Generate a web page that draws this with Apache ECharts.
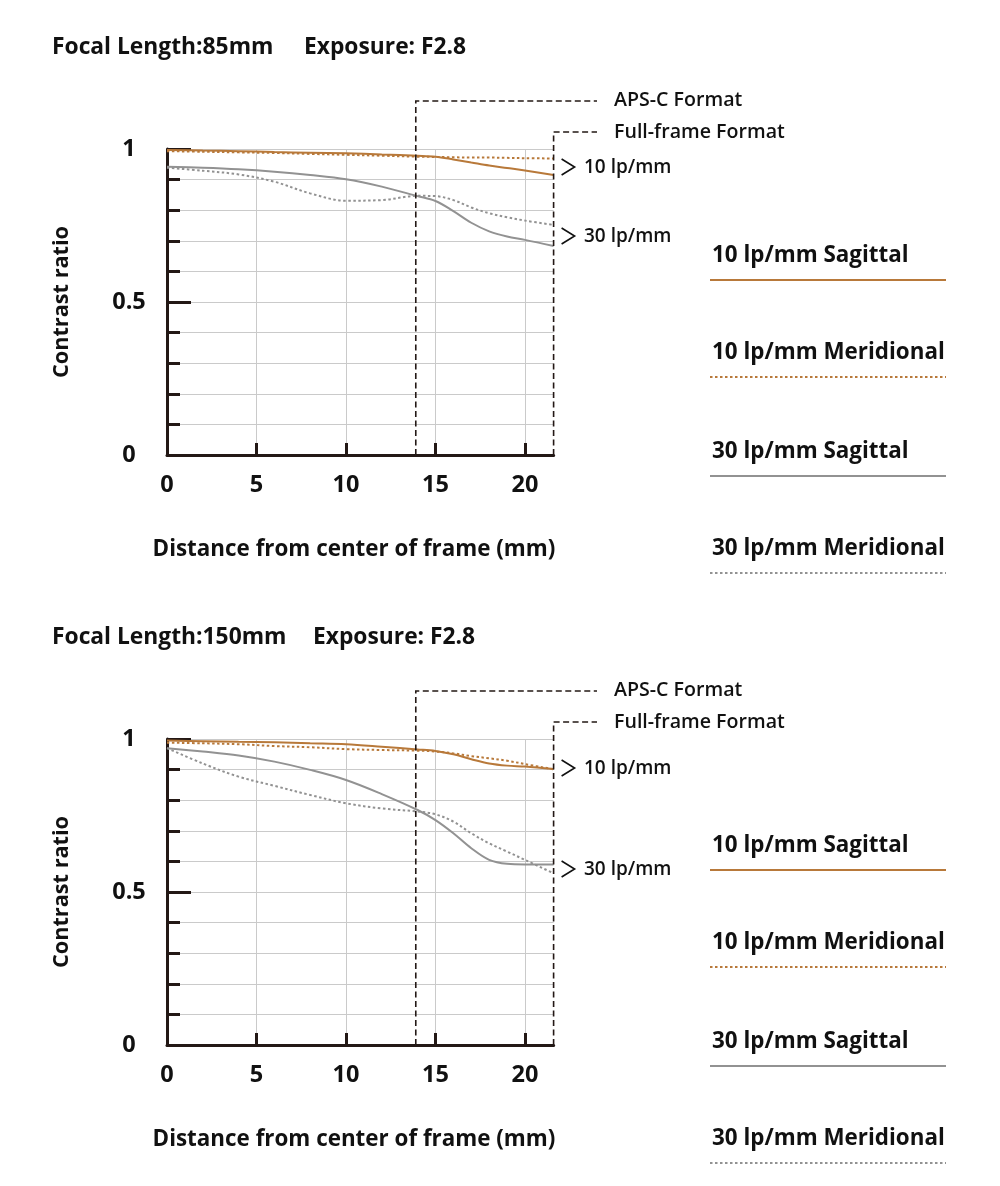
<!DOCTYPE html>
<html><head><meta charset="utf-8">
<script src="https://cdn.jsdelivr.net/npm/echarts@6/dist/echarts.min.js"></script>
<style>html,body{margin:0;background:#fff}#c{width:1000px;height:1186px}</style>
</head><body><div id="c"></div>
<script>
// ---------- DATA ----------
const xs = [0, 2, 4, 6, 8, 10, 12, 14, 15, 16, 17, 18, 19, 20, 21.6];
// 85mm F2.8
const f85_10S = [0.997,0.995,0.993,0.990,0.988,0.986,0.982,0.978,0.975,0.966,0.956,0.946,0.938,0.930,0.915];
const f85_10M = [0.993,0.991,0.989,0.987,0.984,0.981,0.978,0.975,0.974,0.973,0.972,0.972,0.971,0.970,0.969];
const f85_30S = [0.942,0.939,0.934,0.926,0.915,0.901,0.877,0.846,0.830,0.797,0.759,0.731,0.714,0.703,0.683];
const f85_30M = [0.939,0.929,0.917,0.893,0.855,0.831,0.833,0.847,0.846,0.833,0.809,0.790,0.777,0.766,0.752];
// 150mm F2.8
const f150_10S = [0.995,0.993,0.991,0.989,0.986,0.983,0.975,0.966,0.961,0.950,0.934,0.920,0.913,0.910,0.902];
const f150_10M = [0.988,0.986,0.983,0.977,0.973,0.967,0.964,0.962,0.959,0.953,0.944,0.937,0.929,0.918,0.901];
const f150_30S = [0.970,0.959,0.946,0.926,0.899,0.866,0.820,0.768,0.735,0.692,0.643,0.605,0.592,0.590,0.590];
const f150_30M = [0.970,0.920,0.877,0.847,0.817,0.790,0.773,0.763,0.754,0.730,0.692,0.659,0.632,0.605,0.561];

const titles = [["Focal Length:85mm", "Exposure: F2.8"], ["Focal Length:150mm", "Exposure: F2.8"]];
const xTickLabels = [0, 5, 10, 15, 20];
const yTickLabels = ["0", "0.5", "1"];
const xMax = 21.6;           // full-frame edge (mm)
const apscEdge = 13.9;       // APS-C edge (mm)
const legendNames = ["10 lp/mm Sagittal", "10 lp/mm Meridional", "30 lp/mm Sagittal", "30 lp/mm Meridional"];
const freqLabels = ["10 lp/mm", "30 lp/mm"];
const xAxisName = "Distance from center of frame (mm)";
const yAxisName = "Contrast ratio";

// ---------- STYLE ----------
const ORANGE = '#b8793a', GRAY = '#929292', INK = '#231815', GRID = '#cacaca';
const FONT = '"Open Sans"';
const chartSets = [[f85_10S, f85_10M, f85_30S, f85_30M], [f150_10S, f150_10M, f150_30S, f150_30M]];
const styles = [
  {color: ORANGE, type: 'solid'}, {color: ORANGE, type: [2.5, 2.5]},
  {color: GRAY, type: 'solid'}, {color: GRAY, type: [2.5, 2.5]}
];
const OFF = 590;
const gridTop = [149, 149 + OFF];

const el = document.getElementById('c');
const chart = echarts.init(el, null, {renderer: 'canvas'});

const grids = [], xAxes = [], yAxes = [], series = [];
for (let g = 0; g < 2; g++) {
  grids.push({left: 167, width: 386.6, top: gridTop[g], height: 306, containLabel: false});
  xAxes.push({
    type: 'value', gridIndex: g, min: 0, max: xMax, interval: 5,
    axisLine: {show: true, onZero: false, lineStyle: {color: INK, width: 3}},
    axisTick: {show: true, inside: true, length: 12, lineStyle: {color: INK, width: 3}, customValues: [5, 10, 15, 20]},
    axisLabel: {customValues: xTickLabels, fontFamily: FONT, fontWeight: 700, fontSize: 23.5, color: '#111', margin: 18},
    splitLine: {show: true, lineStyle: {color: GRID, width: 1}}
  });
  yAxes.push({
    type: 'value', gridIndex: g, min: 0, max: 1, interval: 0.1, position: 'left',
    axisLine: {show: true, lineStyle: {color: INK, width: 3}},
    axisTick: {show: true, inside: true, length: 13, lineStyle: {color: INK, width: 3}},
    axisLabel: {
      align: 'center', margin: 38, fontFamily: FONT, fontWeight: 700, fontSize: 23.5, color: '#111',
      formatter: v => Math.abs(v) < 1e-6 ? yTickLabels[0] : Math.abs(v - 0.5) < 1e-6 ? yTickLabels[1] : Math.abs(v - 1) < 1e-6 ? yTickLabels[2] : ''
    },
    splitLine: {show: true, lineStyle: {color: GRID, width: 1}}
  });
  yAxes.push({
    type: 'value', gridIndex: g, min: 0, max: 1, interval: 0.5, position: 'left',
    axisLine: {show: false},
    axisTick: {show: true, inside: true, length: 24, lineStyle: {color: INK, width: 3}},
    axisLabel: {show: false}, splitLine: {show: false}
  });
  chartSets[g].forEach((vals, i) => {
    series.push({
      type: 'line', xAxisIndex: g, yAxisIndex: g * 2, name: legendNames[i],
      data: xs.map((x, k) => [x, vals[k]]),
      smooth: 0.35, symbol: 'none', silent: true,
      lineStyle: {color: styles[i].color, type: styles[i].type, width: 2},
      z: 3 + (i % 2 === 0 ? 1 : 0)
    });
  });
}

chart.setOption({animation: false, grid: grids, xAxis: xAxes, yAxis: yAxes, series: series});

// ---------- annotations (positions derived from the axes) ----------
const gfx = [];
const txt = (x, y, text, size, opts = {}) => gfx.push({
  type: 'text', x: x, y: y, rotation: opts.rot || 0, z: 10,
  style: {text: text, fill: '#111', font: `${opts.weight || 700} ${size}px ${FONT}`,
    textAlign: opts.align || 'left', textVerticalAlign: 'middle'}
});
for (let g = 0; g < 2; g++) {
  const dy = g * OFF;
  const [xA, yBot] = chart.convertToPixel({xAxisIndex: g, yAxisIndex: g * 2}, [apscEdge, 0]);
  const [xF] = chart.convertToPixel({xAxisIndex: g, yAxisIndex: g * 2}, [xMax, 0]);
  const dash = {stroke: INK, lineWidth: 1.6, lineDash: [6, 3.5], fill: 'none'};
  gfx.push({type: 'polyline', z: 9, shape: {points: [[xA, yBot], [xA, 101 + dy], [597, 101 + dy]]}, style: dash});
  gfx.push({type: 'polyline', z: 9, shape: {points: [[xF, yBot], [xF, 132 + dy], [597, 132 + dy]]}, style: dash});
  txt(614, 100 + dy, "APS-C Format", 19.6, {weight: 600});
  txt(614, 132 + dy, "Full-frame Format", 19.6, {weight: 600});
  // titles
  txt(52, 48 + dy, titles[g][0], 22.8);
  txt(g === 0 ? 304 : 313, 48 + dy, titles[g][1], 22.8);
  // axis names
  txt(62, (gridTop[g] + yBot) / 2, yAxisName, 21.7, {rot: Math.PI / 2, align: 'center'});
  txt(354, 550 + dy, xAxisName, 22.4, {align: 'center'});
  // frequency markers
  const fy = g === 0 ? [167, 236] : [768, 869];
  fy.forEach((yc, i) => {
    gfx.push({type: 'polyline', z: 10, shape: {points: [[xF + 8, yc - 8], [xF + 21, yc], [xF + 8, yc + 8]]},
      style: {stroke: '#111', lineWidth: 1.6, fill: 'none'}});
    txt(584, yc + 1, freqLabels[i], 19, {weight: 600});
  });
  // legend
  const ly = [256, 353, 452, 549];
  legendNames.forEach((n, i) => {
    txt(712, ly[i] + dy, n, 22.4);
    gfx.push({type: 'line', z: 10, shape: {x1: 710, y1: ly[i] + 24 + dy, x2: 946, y2: ly[i] + 24 + dy},
      style: {stroke: styles[i].color, lineWidth: 2, lineDash: styles[i].type === 'solid' ? null : [2.5, 2.5]}});
  });
}
chart.setOption({graphic: gfx});
</script></body></html>
